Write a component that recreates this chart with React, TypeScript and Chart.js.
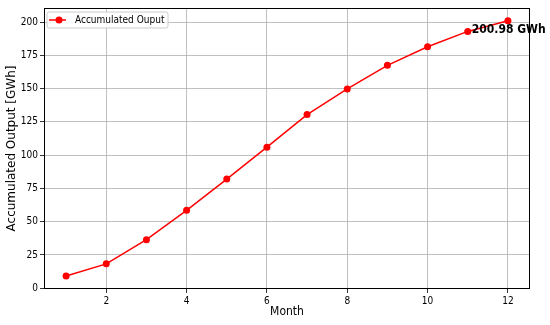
import React, { useEffect, useRef } from "react";
import { Chart, registerables } from "chart.js";

Chart.register(...registerables);

const months = [1, 2, 3, 4, 5, 6, 7, 8, 9, 10, 11, 12];
const accumulated = [9.2, 18.3, 36.5, 58.5, 82, 106, 130.5, 149.8, 167.5, 181.5, 193, 200.98];
const xTicks = [2, 4, 6, 8, 10, 12];
const yTicks = [0, 25, 50, 75, 100, 125, 150, 175, 200];
const seriesLabel = "Accumulated Ouput";
const annotationText = "200.98 GWh";
const annotationAt = { x: 11.1, y: 194 };

const FONT = "'DejaVu Sans Condensed', 'DejaVu Sans', sans-serif";
const FONT_REG = "'DejaVu Sans', sans-serif";

const framePlugin = {
  id: "frameAndExtras",
  afterDraw(chart: any) {
    const { ctx, chartArea } = chart;
    const { left, right, top, bottom } = chartArea;
    ctx.save();
    // frame
    ctx.strokeStyle = "#000";
    ctx.lineWidth = 1;
    ctx.strokeRect(left + 0.5, top + 0.5, right - left - 1, bottom - top - 1);
    // legend
    const lx = left + 3, ly = top + 4, lw = 121, lh = 16;
    ctx.fillStyle = "rgba(255,255,255,0.85)";
    ctx.strokeStyle = "#cccccc";
    ctx.beginPath();
    const r = 2;
    ctx.moveTo(lx + r, ly);
    ctx.lineTo(lx + lw - r, ly);
    ctx.quadraticCurveTo(lx + lw, ly, lx + lw, ly + r);
    ctx.lineTo(lx + lw, ly + lh - r);
    ctx.quadraticCurveTo(lx + lw, ly + lh, lx + lw - r, ly + lh);
    ctx.lineTo(lx + r, ly + lh);
    ctx.quadraticCurveTo(lx, ly + lh, lx, ly + lh - r);
    ctx.lineTo(lx, ly + r);
    ctx.quadraticCurveTo(lx, ly, lx + r, ly);
    ctx.closePath();
    ctx.fill();
    ctx.stroke();
    const cy = ly + lh / 2;
    ctx.strokeStyle = "red";
    ctx.lineWidth = 1.5;
    ctx.beginPath();
    ctx.moveTo(lx + 2, cy);
    ctx.lineTo(lx + 19, cy);
    ctx.stroke();
    ctx.fillStyle = "red";
    ctx.beginPath();
    ctx.arc(lx + 12, cy, 3.5, 0, Math.PI * 2);
    ctx.fill();
    ctx.fillStyle = "#000";
    ctx.font = `10px ${FONT}`;
    ctx.textBaseline = "middle";
    ctx.textAlign = "left";
    ctx.fillText(seriesLabel, lx + 28, cy + 0.5);
    // annotation
    const xs = chart.scales.x, ys = chart.scales.y;
    ctx.font = `bold 12px ${FONT}`;
    ctx.fillText(annotationText, xs.getPixelForValue(annotationAt.x), ys.getPixelForValue(annotationAt.y));
    ctx.restore();
  },
};

export default function App() {
  const ref = useRef<HTMLCanvasElement | null>(null);
  useEffect(() => {
    document.body.style.margin = "0";
    const chart = new Chart(ref.current as HTMLCanvasElement, {
      type: "line",
      data: {
        datasets: [
          {
            label: seriesLabel,
            data: months.map((m, i) => ({ x: m, y: accumulated[i] })),
            borderColor: "red",
            backgroundColor: "red",
            borderWidth: 1.5,
            pointRadius: 3.5,
            pointHoverRadius: 3.5,
            pointBorderWidth: 0,
            tension: 0,
          },
        ],
      },
      options: {
        animation: false,
        responsive: false,
        layout: { padding: { top: 5, right: 20, left: 0, bottom: 0 } },
        plugins: { legend: { display: false }, tooltip: { enabled: false } },
        scales: {
          x: {
            type: "linear",
            min: 0.45,
            max: 12.55,
            afterBuildTicks: (s: any) => {
              s.ticks = xTicks.map((v) => ({ value: v }));
            },
            afterFit: (s: any) => {
              s.height = 36;
            },
            grid: { color: "#b0b0b0", lineWidth: 0.8, tickColor: "#000", tickLength: 4, drawTicks: true },
            border: { display: false },
            ticks: { color: "#000", font: { family: FONT, size: 10 }, padding: 2, maxRotation: 0 },
            title: {
              display: true,
              text: "Month",
              color: "#000",
              font: { family: FONT, size: 12 },
              padding: { top: 0, bottom: 5.5 },
            },
          },
          y: {
            type: "linear",
            min: -0.6,
            max: 210.6,
            afterBuildTicks: (s: any) => {
              s.ticks = yTicks.map((v) => ({ value: v }));
            },
            afterFit: (s: any) => {
              s.width = 44;
            },
            grid: { color: "#b0b0b0", lineWidth: 0.8, tickColor: "#000", tickLength: 4, drawTicks: true },
            border: { display: false },
            ticks: { color: "#000", font: { family: FONT, size: 10 }, padding: 2 },
            title: {
              display: true,
              text: "Accumulated Output [GWh]",
              color: "#000",
              font: { family: FONT_REG, size: 12 },
              padding: { top: 5, bottom: 0 },
            },
          },
        },
      } as any,
      plugins: [framePlugin],
    });
    return () => chart.destroy();
  }, []);
  return (
    <div style={{ position: "absolute", left: 0, top: 0, width: 550, height: 325 }}>
      <canvas ref={ref} width={550} height={325} style={{ width: 550, height: 325 }} />
    </div>
  );
}
